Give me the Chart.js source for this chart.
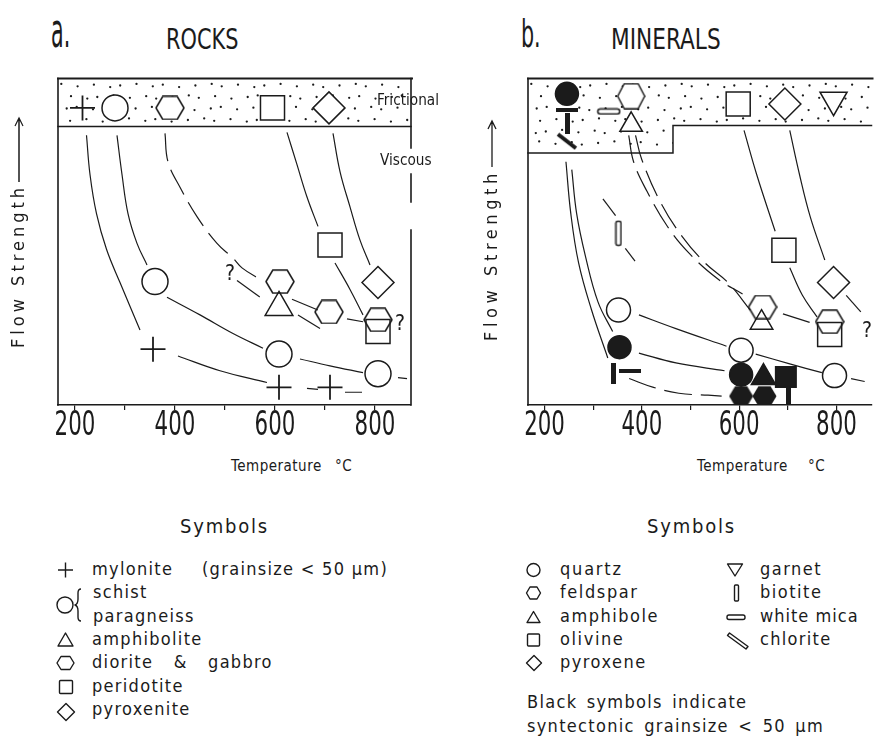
<!DOCTYPE html>
<html>
<head>
<meta charset="utf-8">
<script src="https://cdn.jsdelivr.net/npm/chart.js@4.4.1/dist/chart.umd.min.js"></script>
<style>
  html, body { margin: 0; padding: 0; background: #fff; }
  body {
    width: 874px; height: 739px; overflow: hidden; position: relative;
    font-family: "DejaVu Sans Condensed", "Liberation Sans Narrow", "Liberation Sans", sans-serif;
    color: #1b1b1b;
  }
  .t { position: absolute; white-space: nowrap; line-height: 1; }
  .rot { position: absolute; white-space: nowrap; line-height: 1; transform-origin: 0 0; transform: rotate(-90deg); }
  canvas { position: absolute; }
  .leg { font-size: 18px; letter-spacing: 1.3px; }
</style>
</head>
<body>

<canvas id="chartA" width="440" height="380" style="left:0;top:60px"></canvas>
<canvas id="chartB" width="420" height="380" style="left:470px;top:60px"></canvas>

<!-- panel headings -->
<div class="t" style="left:51px;top:17px;font-size:37px;transform:scale(0.62,1.3);transform-origin:0 33px">a.</div>
<div class="t" style="left:166px;top:25px;font-size:29px;transform:scaleX(0.8);transform-origin:0 0">ROCKS</div>
<div class="t" style="left:521px;top:16px;font-size:37px;transform:scaleX(0.62);transform-origin:0 0">b.</div>
<div class="t" style="left:611px;top:25px;font-size:29px;transform:scaleX(0.83);transform-origin:0 0">MINERALS</div>

<!-- regime labels -->
<div class="t" style="left:377px;top:92px;font-size:16.5px;transform:scaleX(0.92);transform-origin:0 0">Frictional</div>
<div class="t" style="left:380px;top:152px;font-size:16.5px;transform:scaleX(0.92);transform-origin:0 0">Viscous</div>

<!-- uncertain trends -->
<div class="t" style="left:225px;top:263px;font-size:21px">?</div>
<div class="t" style="left:395px;top:313px;font-size:21px">?</div>
<div class="t" style="left:862px;top:320px;font-size:21px">?</div>

<!-- axis titles -->
<div class="t" style="left:231px;top:459px;font-size:15px;letter-spacing:0.5px">Temperature</div>
<div class="t" style="left:335px;top:459px;font-size:15px;letter-spacing:0.5px">°C</div>
<div class="t" style="left:697px;top:459px;font-size:15px;letter-spacing:0.5px">Temperature</div>
<div class="t" style="left:808px;top:459px;font-size:15px;letter-spacing:0.5px">°C</div>

<div class="rot" style="left:9px;top:348px;font-size:18px;letter-spacing:4px">Flow Strength<svg width="66" height="12" style="vertical-align:middle;margin-left:2px"><path d="M0 6H64M56 2L64 6L56 10" fill="none" stroke="#1b1b1b" stroke-width="1.3"/></svg></div>
<div class="rot" style="left:482px;top:341px;font-size:18px;letter-spacing:4.6px">Flow Strength<svg width="48" height="12" style="vertical-align:middle;margin-left:2px"><path d="M0 6H46M38 2L46 6L38 10" fill="none" stroke="#1b1b1b" stroke-width="1.3"/></svg></div>

<!-- symbol keys -->
<div class="t" style="left:180px;top:516px;font-size:20px;letter-spacing:1.8px">Symbols</div>
<div class="t leg" style="left:92px;top:560px">mylonite</div>
<div class="t leg" style="left:202px;top:560px">(grainsize &lt; 50 μm)</div>
<div class="t leg" style="left:93px;top:583px">schist</div>
<div class="t leg" style="left:93px;top:607px">paragneiss</div>
<div class="t leg" style="left:92px;top:630px">amphibolite</div>
<div class="t leg" style="left:92px;top:653px;word-spacing:14px">diorite &amp; gabbro</div>
<div class="t leg" style="left:92px;top:677px">peridotite</div>
<div class="t leg" style="left:92px;top:700px">pyroxenite</div>

<div class="t" style="left:647px;top:516px;font-size:20px;letter-spacing:1.8px">Symbols</div>
<div class="t leg" style="left:560px;top:560px;letter-spacing:1.8px">quartz</div>
<div class="t leg" style="left:560px;top:583px;letter-spacing:1.6px">feldspar</div>
<div class="t leg" style="left:560px;top:607px;letter-spacing:1.5px">amphibole</div>
<div class="t leg" style="left:560px;top:630px;letter-spacing:1.6px">olivine</div>
<div class="t leg" style="left:560px;top:653px;letter-spacing:1.5px">pyroxene</div>
<div class="t leg" style="left:760px;top:560px;letter-spacing:1.5px">garnet</div>
<div class="t leg" style="left:760px;top:583px;letter-spacing:1.5px">biotite</div>
<div class="t leg" style="left:760px;top:607px;letter-spacing:1px">white mica</div>
<div class="t leg" style="left:760px;top:630px;letter-spacing:1.3px">chlorite</div>
<div class="t leg" style="left:527px;top:693px;word-spacing:3px">Black symbols indicate</div>
<div class="t leg" style="left:527px;top:717px;word-spacing:3px">syntectonic grainsize &lt; 50 μm</div>

<svg style="position:absolute;left:0;top:0" width="874" height="739" fill="none" stroke="#1b1b1b" stroke-width="1.4" stroke-linejoin="round">
  <!-- rocks key -->
  <path d="M58 570H73M65.5 562.5V577.5"/>
  <circle cx="65" cy="605" r="8"/>
  <path d="M81 589q-3 0-3 4v6q0 5-3 6q3 1 3 6v6q0 4 3 4"/>
  <path d="M58 646L65.5 633L73 646Z"/>
  <path d="M57 663L61 656.5L70 656.5L74 663L70 669.5L61 669.5Z"/>
  <rect x="59.5" y="680.5" width="13" height="13" rx="1"/>
  <path d="M66 703.5L74.5 712L66 720.5L57.5 712Z"/>
  <!-- minerals key -->
  <circle cx="533.5" cy="570" r="6.5"/>
  <path d="M526.5 593L530 587L537 587L540.5 593L537 599L530 599Z"/>
  <path d="M527 622.5L533.5 611.5L540 622.5Z"/>
  <rect x="527.5" y="634" width="12" height="12" rx="1"/>
  <path d="M534 655.5L541.5 663L534 670.5L526.5 663Z"/>
  <path d="M727.5 564L742.5 564L735 576Z"/>
  <rect x="734.5" y="585" width="4" height="16" rx="1"/>
  <rect x="727" y="615" width="18" height="4.5" rx="2"/>
  <path d="M729.5 633L748 646.5L746 649L727.5 635.5Z"/>
</svg>

<script>
const INK = '#1b1b1b';
const FONT = '"DejaVu Sans Condensed", "Liberation Sans Narrow", "Liberation Sans", sans-serif';

// ---- axes: temperature in °C, flow strength in relative units (0 weak .. 100 strong)
const tempRange = [166, 872];
const strengthRange = [0, 100];
const tempTicks = [200, 300, 400, 500, 600, 700, 800];
const tempLabels = [200, 400, 600, 800];

// frictional regime: [from °C, to °C, lower strength limit]
const frictionRocks = [[166, 872, 85.3]];
const frictionMinerals = [[166, 464, 77.2], [464, 872, 85.6]];

// ---- a. ROCKS  — [temperature °C, flow strength]
const rockMylonite    = [[215, 91], [356, 17.1], [608, 5.4], [710, 5.4]];
const rockSchist      = [[280, 91], [360, 37.8], [608, 15.6], [806, 9.6]];
const rockAmphibolite = [[608, 29.9]];
const rockDiorite     = [[390, 91], [610, 37.8], [708, 28.5], [806, 26.1]];
const rockPeridotite  = [[595, 91], [710, 49], [806, 22.5]];
const rockPyroxenite  = [[708, 91], [806, 37.5]];

// strength–temperature trends, one array per drawn stroke
const rockTrendsSolid = [
  [[223, 82.6], [230, 70.6], [243, 58.6], [263, 47.7], [290, 37.5], [330, 23.0]],
  [[406, 15.0], [490, 10.5], [584, 6.9]],
  [[664, 5.1], [686, 4.8]],
  [[740, 3.9], [774, 3.9]],
  [[284, 82.6], [294, 70.6], [306, 58.6], [324, 49.5], [344, 42.9]],
  [[384, 33.0], [450, 27.6], [516, 21.9], [576, 17.4]],
  [[650, 14.1], [710, 12.0], [776, 9.9]],
  [[846, 8.4], [864, 8.1]],
  [[624, 83.5], [644, 73.6], [664, 63.7], [686, 54.7]],
  [[720, 43.5], [750, 35.4], [776, 27.6]],
  [[716, 83.2], [730, 71.5], [750, 60.7], [770, 50.5], [790, 42.9]]
];
const rockTrendsDashed = [
  [[380, 83.2], [386, 74.5], [410, 66.7], [444, 57.7], [484, 49.5], [516, 45.0], [534, 42.0], [574, 38.1]],
  [[634, 32.4], [686, 29.1]],
  [[744, 26.4], [776, 25.5]],
  [[524, 38.1], [576, 32.4]],
  [[646, 27.6], [690, 23.4]]
];

// ---- b. MINERALS — open symbols: coarse grained, black symbols: syntectonic < 50 μm
const minQuartz         = [[352, 29.1], [604, 16.8], [796, 9.0]];
const minQuartzFine     = [[246, 95.3], [354, 17.7], [604, 9.3]];
const minFeldspar       = [[378, 94.6], [648, 30.0], [786, 25.5]];
const minFeldsparFine   = [[604, 2.7], [652, 2.7]];
const minAmphibole      = [[378, 85.8], [646, 25.2]];
const minAmphiboleFine  = [[650, 8.4]];
const minOlivine        = [[598, 92.2], [692, 47.4], [786, 21.6]];
const minOlivineFine    = [[696, 8.6]];
const minPyroxene       = [[694, 92.2], [794, 37.5]];
const minGarnet         = [[794, 93.4]];
const minBiotite        = [[352, 52.6]];
const minBiotiteFine    = [[248, 86.3], [341, 9.5], [702, 2.6]];
const minWhiteMica      = [[332, 89.9]];
const minWhiteMicaFine  = [[246, 90.5], [375, 10.4]];
const minChloriteFine   = [[246, 80.8]];

const minTrendsSolid = [
  [[244, 74.5], [254, 58.6], [270, 43.5], [296, 29.4], [330, 14.4]],
  [[256, 72.1], [266, 58.6], [284, 45.6], [310, 31.5], [340, 22.5]],
  [[394, 27.6], [470, 23.4], [574, 18.0]],
  [[634, 15.6], [704, 12.6], [770, 9.9]],
  [[830, 8.1], [858, 7.2]],
  [[394, 15.9], [470, 12.9], [570, 10.5]],
  [[610, 84.1], [636, 70.6], [674, 53.2]],
  [[704, 42.0], [730, 33.6], [760, 27.0]],
  [[704, 84.1], [724, 70.6], [746, 57.7], [776, 44.4]],
  [[820, 33.6], [850, 28.5]]
];
const minTrendsDashed = [
  [[374, 8.1], [424, 5.4], [476, 3.6], [536, 3.0], [564, 2.7]],
  [[320, 63.1], [346, 58.0]],
  [[366, 48.0], [386, 44.1]],
  [[373, 82.6], [383, 74.5], [410, 65.6], [453, 54.6], [497, 46.5], [557, 38.5], [607, 34.0]],
  [[387, 82.6], [400, 75.1], [440, 61.6], [483, 51.6], [530, 43.5], [577, 37.5], [623, 29.0]],
  [[690, 27.9], [760, 24.6]]
];

// ---- linear scale whose tick labels are set in a narrow, stencil-like width
let AXIS_TYPE = 'linear';
try {
  class NarrowLabelLinearScale extends Chart.LinearScale {
    _computeLabelItems(chartArea) {
      const items = super._computeLabelItems(chartArea);
      const squeeze = this.options.ticks.squeeze || 1;
      const ctx = this.ctx;
      ctx.save();
      items.forEach(it => {
        ctx.font = it.font.string;
        const w = ctx.measureText(String(it.label)).width;
        if (w > 0) it.options.maxWidth = w * squeeze;
      });
      ctx.restore();
      return items;
    }
  }
  NarrowLabelLinearScale.id = 'narrowLabelLinear';
  NarrowLabelLinearScale.defaults = Chart.LinearScale.defaults;
  Chart.register(NarrowLabelLinearScale);
  AXIS_TYPE = 'narrowLabelLinear';
} catch (e) { AXIS_TYPE = 'linear'; }

// ---- marker glyphs that Chart.js has no built-in style for
function glyph(w, h, draw) {
  const c = document.createElement('canvas');
  c.width = w; c.height = h;
  const g = c.getContext('2d');
  g.strokeStyle = INK; g.fillStyle = INK; g.lineWidth = 1.5; g.lineJoin = 'round';
  draw(g, w, h);
  return c;
}
function hexPath(g, w, h, i) {
  g.beginPath();
  g.moveTo(i, h / 2); g.lineTo(w * 0.26, i); g.lineTo(w * 0.74, i);
  g.lineTo(w - i, h / 2); g.lineTo(w * 0.74, h - i); g.lineTo(w * 0.26, h - i);
  g.closePath();
}
function roundRect(g, x, y, w, h, r) {
  g.beginPath();
  g.moveTo(x + r, y); g.arcTo(x + w, y, x + w, y + h, r); g.arcTo(x + w, y + h, x, y + h, r);
  g.arcTo(x, y + h, x, y, r); g.arcTo(x, y, x + w, y, r); g.closePath();
}
const hexOpen   = glyph(30, 25, (g, w, h) => { hexPath(g, w, h, 1); g.stroke(); });
const hexWhite  = glyph(30, 25, (g, w, h) => { hexPath(g, w, h, 1); g.fillStyle = '#fff'; g.fill(); g.stroke(); });
const hexSmallW = glyph(29, 27, (g, w, h) => { hexPath(g, w, h, 1); g.fillStyle = '#fff'; g.fill(); g.stroke(); });
const hexFilled = glyph(25, 21, (g, w, h) => { hexPath(g, w, h, 0.5); g.fill(); });
const biotiteOpen   = glyph(8, 27, (g) => { roundRect(g, 1.5, 1.5, 5, 24, 1.5); g.stroke(); });
const biotiteFilled = glyph(5, 21, (g, w, h) => { g.fillRect(0, 0, w, h); });
const micaOpen      = glyph(25, 8, (g) => { roundRect(g, 1.5, 1.5, 22, 5, 2.5); g.fillStyle = '#fff'; g.fill(); g.stroke(); });
const micaFilled    = glyph(22, 4, (g, w, h) => { g.fillRect(0, 0, w, h); });
const chloriteFilled = glyph(22, 18, (g) => { g.lineWidth = 4; g.lineCap = 'butt'; g.beginPath(); g.moveTo(2, 2); g.lineTo(20, 16); g.stroke(); });

// ---- dataset builders
const pts = arr => arr.map(([x, y]) => ({ x, y }));
const inBand = (bands, p) => bands.some(([t0, t1, yb]) => p.x >= t0 && p.x <= t1 && p.y >= yb);

function markers(bands, data, style, radius, extra) {
  return Object.assign({
    data: pts(data), showLine: false, order: 0,
    pointStyle: style, pointRadius: radius, pointBorderColor: INK, pointBorderWidth: 1.5,
    pointBackgroundColor: c => (c.raw && inBand(bands, c.raw)) ? '#fff' : 'rgba(0,0,0,0)'
  }, extra || {});
}
const filled = { pointBackgroundColor: INK };

function trends(segments, dashed) {
  return segments.map(s => ({
    data: pts(s), showLine: true, order: 1,
    pointRadius: 0, borderColor: INK, borderWidth: 1.2,
    tension: s.length > 2 ? 0.4 : 0, borderDash: dashed ? [28, 9] : []
  }));
}

// ---- frictional band stipple and frame
function stipple(ctx, poly) {
  ctx.save();
  ctx.beginPath();
  poly.forEach((p, i) => i ? ctx.lineTo(p[0], p[1]) : ctx.moveTo(p[0], p[1]));
  ctx.closePath(); ctx.clip();
  const xs = poly.map(p => p[0]), ys = poly.map(p => p[1]);
  const x0 = Math.min(...xs), x1 = Math.max(...xs), y0 = Math.min(...ys), y1 = Math.max(...ys);
  ctx.fillStyle = INK;
  let r = 0;
  for (let y = y0 + 7; y < y1 - 3; y += 11.5, r++) {
    let c = 0;
    for (let x = x0 + 6 + (r % 2) * 7; x < x1 - 2; x += 14.5, c++) {
      const jx = (((c * 37 + r * 17) % 7) - 3) * 0.9;
      const jy = (((c * 23 + r * 11) % 5) - 2) * 0.8;
      ctx.beginPath(); ctx.arc(x + jx, y + jy, 1.15, 0, Math.PI * 2); ctx.fill();
    }
  }
  ctx.restore();
}

const panelFrame = {
  id: 'panelFrame',
  beforeDatasetsDraw(chart, args, o) {
    const { ctx, chartArea: a, scales: { x, y } } = chart;
    const poly = [[a.left, a.top], [a.right, a.top]];
    o.bands.slice().reverse().forEach(([t0, t1, yb]) => {
      const py = y.getPixelForValue(yb);
      poly.push([Math.min(x.getPixelForValue(t1), a.right), py]);
      poly.push([Math.max(x.getPixelForValue(t0), a.left), py]);
    });
    stipple(ctx, poly);
    ctx.save();
    ctx.strokeStyle = INK; ctx.lineCap = 'square';
    ctx.lineWidth = 1.5;
    ctx.beginPath();
    ctx.moveTo(poly[2][0], poly[2][1]);
    for (let i = 3; i < poly.length; i++) ctx.lineTo(poly[i][0], poly[i][1]);
    ctx.stroke();
    ctx.lineWidth = 2;
    ctx.beginPath(); ctx.moveTo(a.left, a.top); ctx.lineTo(a.right + 1, a.top); ctx.stroke();
    ctx.lineWidth = 1.6;
    ctx.beginPath(); ctx.moveTo(a.left, a.top); ctx.lineTo(a.left, a.bottom); ctx.stroke();
    if (o.rightGaps) {
      let from = a.top;
      o.rightGaps.concat([[a.bottom, a.bottom]]).forEach(([g0, g1]) => {
        ctx.beginPath(); ctx.moveTo(a.right, from); ctx.lineTo(a.right, g0); ctx.stroke();
        from = g1;
      });
    }
    ctx.restore();
  }
};

Chart.defaults.font.family = FONT;
Chart.defaults.color = INK;

function panel(id, datasets, bands, padRight, padTop, rightGaps) {
  return new Chart(document.getElementById(id), {
    type: 'scatter',
    data: { datasets },
    options: {
      responsive: false, animation: false, events: [],
      layout: { padding: { left: 58, right: padRight, top: padTop, bottom: 0 } },
      plugins: {
        legend: { display: false }, tooltip: { enabled: false },
        panelFrame: { bands, rightGaps }
      },
      scales: {
        x: {
          type: AXIS_TYPE, min: tempRange[0], max: tempRange[1],
          afterFit: s => { s.height = 35; },
          afterBuildTicks: s => { s.ticks = tempTicks.map(v => ({ value: v })); },
          ticks: {
            autoSkip: false, maxRotation: 0, padding: 0, color: INK, squeeze: 0.72,
            font: { family: FONT, size: 33, lineHeight: 1 },
            callback: v => tempLabels.includes(v) ? String(v) : ''
          },
          grid: { drawOnChartArea: false, drawTicks: true, tickLength: 5, color: INK, lineWidth: 1.2 },
          border: { display: true, color: INK, width: 1.6 }
        },
        y: { display: false, min: strengthRange[0], max: strengthRange[1] }
      }
    },
    plugins: [panelFrame]
  });
}

const FA = frictionRocks, FB = frictionMinerals;

panel('chartA', [
  markers(FA, rockMylonite, 'cross', 12.5, { pointBorderWidth: 1.8 }),
  markers(FA, rockSchist, 'circle', 13),
  markers(FA, rockAmphibolite, 'triangle', 16),
  markers(FA, rockDiorite, c => (c.raw && inBand(FA, c.raw)) ? hexWhite : hexOpen, 12),
  markers(FA, rockPeridotite, 'rect', 17),
  markers(FA, rockPyroxenite, 'rectRot', 16),
  ...trends(rockTrendsSolid, false),
  ...trends(rockTrendsDashed, true)
], FA, 29, 12, [[88, 114], [142, 170]]);

panel('chartB', [
  markers(FB, minQuartz, 'circle', 12),
  markers(FB, minQuartzFine, 'circle', 11.5, filled),
  markers(FB, minFeldspar, c => (c.raw && inBand(FB, c.raw)) ? hexSmallW : hexOpen, 12),
  markers(FB, minFeldsparFine, hexFilled, 11),
  markers(FB, minAmphibole, 'triangle', 13),
  markers(FB, minAmphiboleFine, 'triangle', 14, filled),
  markers(FB, minOlivine, 'rect', 17),
  markers(FB, minOlivineFine, 'rect', 14.5, filled),
  markers(FB, minPyroxene, 'rectRot', 16),
  markers(FB, minGarnet, 'triangle', 15.6, { pointRotation: 180 }),
  markers(FB, minBiotite, biotiteOpen, 10),
  markers(FB, minBiotiteFine, biotiteFilled, 10),
  markers(FB, minWhiteMica, micaOpen, 10),
  markers(FB, minWhiteMicaFine, micaFilled, 10),
  markers(FB, minChloriteFine, chloriteFilled, 10),
  ...trends(minTrendsSolid, false),
  ...trends(minTrendsDashed, true)
], FB, 9, 13, null);
</script>
</body>
</html>
